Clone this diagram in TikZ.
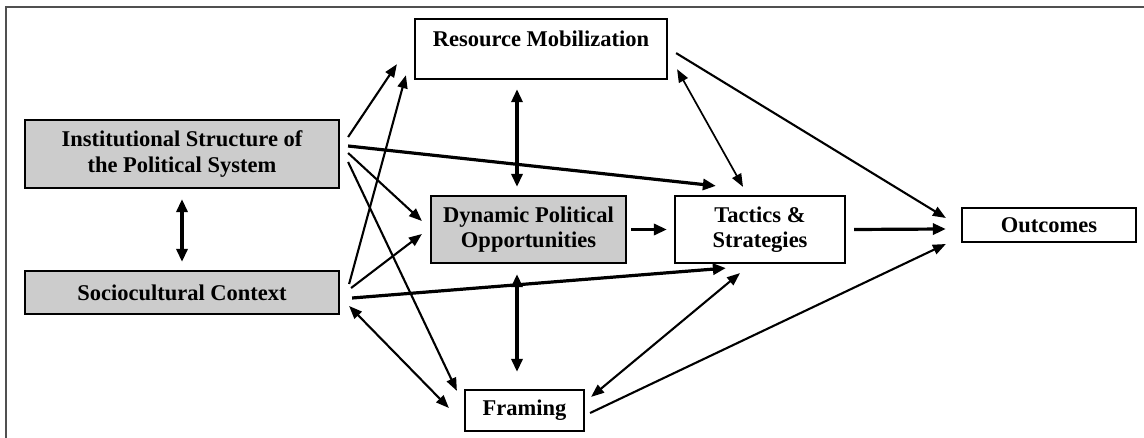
\documentclass[tikz,border=0pt]{standalone}
\usepackage{fontspec}
\setmainfont{Liberation Serif}
\usetikzlibrary{arrows.meta}
\definecolor{boxgray}{RGB}{204,204,204}
\definecolor{framegray}{RGB}{80,80,80}
\begin{document}
\begin{tikzpicture}[x=1pt,y=-1pt,
  box/.style={draw=black, line width=2.2pt, inner sep=0pt, align=center,
    font=\bfseries\fontsize{22.5}{25.5}\selectfont},
  graybox/.style={box, fill=boxgray},
  conn/.style={line width=2.1pt, -{Triangle[length=13pt,width=10pt]}},
  dconn/.style={line width=2.1pt, {Triangle[length=13pt,width=10pt]}-{Triangle[length=13pt,width=10pt]}},
  tconn/.style={line width=3.2pt, -{Triangle[length=13pt,width=11pt]}},
  tdconn/.style={line width=3.2pt, {Triangle[length=13pt,width=11pt]}-{Triangle[length=13pt,width=11pt]}},
  fdconn/.style={line width=1.7pt, {Triangle[length=13pt,width=10pt]}-{Triangle[length=13pt,width=10pt]}}
]
\useasboundingbox (0,0) rectangle (1144,438);
\fill[white] (0,0) rectangle (1144,438);
\draw[framegray, line width=2pt] (6,438) -- (6,7.5) -- (1144,7.5);

\node[graybox, minimum width=314pt, minimum height=68pt] (inst) at (182,154) {Institutional Structure of\\the Political System};
\node[graybox, minimum width=314pt, minimum height=43pt] (socio) at (182,292.5) {Sociocultural Context};
\node[box, minimum width=252pt, text height=27pt, text depth=33pt, anchor=north] (rm) at (541,18) {Resource Mobilization};
\node[graybox, minimum width=195pt, minimum height=67pt] (dyn) at (528.5,229.5) {Dynamic Political\\Opportunities};
\node[box, minimum width=170pt, minimum height=67pt] (tac) at (760,229.5) {Tactics \&\\Strategies};
\node[box, minimum width=174pt, minimum height=34pt] (out) at (1049,225) {Outcomes};
\node[box, minimum width=119pt, minimum height=41pt] (fr) at (524.5,410.5) {Framing};

% connectors
\draw[conn] ([shift={(8,-17)}]inst.east) -- ([shift={(-17,-16)}]rm.south west);
\draw[conn] ([shift={(9,-8.5)}]socio.east) -- ([shift={(-8,-5)}]rm.south west);
\draw[tconn] ([shift={(8,-8)}]inst.east) -- ([shift={(42,-9)}]tac.north west);
\draw[conn] ([shift={(8,-1)}]inst.east) -- ([shift={(-8,-8.5)}]dyn.west);
\draw[conn] ([shift={(8,8)}]inst.east) -- ([shift={(-7,2)}]fr.north west);
\draw[conn] ([shift={(11,-4.5)}]socio.east) -- ([shift={(-8,4.5)}]dyn.west);
\draw[tconn] ([shift={(12,5.5)}]socio.east) -- ([shift={(52,4)}]tac.south west);
\draw[dconn] ([shift={(9,13.5)}]socio.east) -- ([shift={(-15,-2.5)}]fr.west);
\draw[tdconn] ([shift={(0,10)}]inst.south) -- ([shift={(0,-8)}]socio.north);
\draw[tdconn] ([shift={(-24,9)}]rm.south) -- ([shift={(-11.5,-8)}]dyn.north);
\draw[fdconn] ([shift={(9,-11)}]rm.south east) -- ([shift={(-17,-8)}]tac.north);
\draw[conn] ([shift={(8,4)}]rm.east) -- ([shift={(-15,-7)}]out.west);
\draw[tconn] ([shift={(4,0)}]dyn.east) -- ([shift={(-7,0)}]tac.west);
\draw[tconn] ([shift={(8,0)}]tac.east) -- ([shift={(-15,4)}]out.west);
\draw[dconn] ([shift={(-20,9)}]tac.south) -- ([shift={(6,8)}]fr.north east);
\draw[conn] ([shift={(5,2.5)}]fr.east) -- ([shift={(-15,19)}]out.west);
\draw[tdconn] ([shift={(-11.5,10)}]dyn.south) -- ([shift={(-7.5,-17)}]fr.north);
\end{tikzpicture}
\end{document}
